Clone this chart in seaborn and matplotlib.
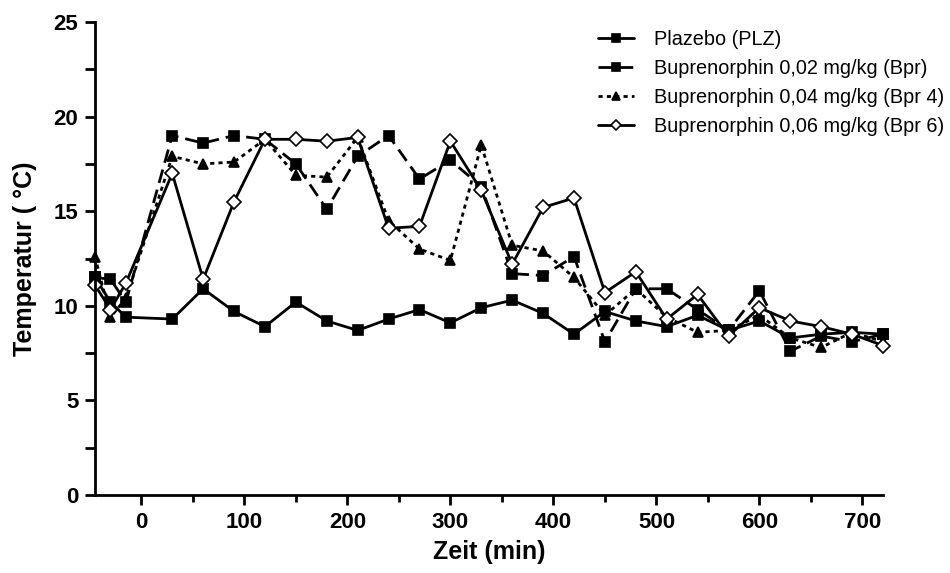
import matplotlib
matplotlib.use("Agg")
import matplotlib.pyplot as plt
import seaborn as sns
import pandas as pd
from matplotlib.ticker import MultipleLocator

zeit = [-45, -30, -15, 30, 60, 90, 120, 150, 180, 210, 240, 270, 300, 330,
        360, 390, 420, 450, 480, 510, 540, 570, 600, 630, 660, 690, 720]

plazebo = [11.5, 10.2, 9.4, 9.3, 10.9, 9.7, 8.9, 10.2, 9.2, 8.7, 9.3, 9.8, 9.1, 9.9,
           10.3, 9.6, 8.5, 9.7, 9.2, 8.9, 9.5, 8.7, 9.2, 8.3, 8.5, 8.6, 8.5]
bpr = [11.5, 11.4, 10.2, 19.0, 18.6, 19.0, 18.8, 17.5, 15.1, 17.9, 19.0, 16.7, 17.7, 16.3,
       11.7, 11.6, 12.6, 8.1, 10.9, 10.9, 9.8, 8.7, 10.8, 7.6, 8.4, 8.1, 8.5]
bpr4 = [12.6, 9.4, 10.4, 17.9, 17.5, 17.6, 18.8, 16.9, 16.8, 18.9, 14.5, 13.0, 12.4, 18.5,
        13.2, 12.9, 11.5, 9.5, 10.9, 9.4, 8.6, 8.7, 9.5, 8.3, 7.8, 8.6, 8.1]
bpr6 = [11.1, 9.8, 11.2, 17.0, 11.4, 15.5, 18.8, 18.8, 18.7, 18.9, 14.1, 14.2, 18.7, 16.1,
        12.2, 15.2, 15.7, 10.7, 11.8, 9.3, 10.6, 8.4, 9.9, 9.2, 8.9, 8.5, 7.9]

labels = ["Plazebo (PLZ)", "Buprenorphin 0,02 mg/kg (Bpr)",
          "Buprenorphin 0,04 mg/kg (Bpr 4)", "Buprenorphin 0,06 mg/kg (Bpr 6)"]

sns.set_theme(style="ticks")
plt.rcParams['font.family'] = ['Liberation Sans', 'DejaVu Sans']
plt.rcParams['text.color'] = 'black'
plt.rcParams['axes.labelcolor'] = 'black'
plt.rcParams['xtick.color'] = 'black'
plt.rcParams['ytick.color'] = 'black'

fig = plt.figure(figsize=(9.5, 5.73), dpi=100)
ax = fig.add_axes([0.1, 0.1361, 0.8295, 0.8255])

series = [plazebo, bpr, bpr4, bpr6]
styles = [
    dict(linestyle='-', marker='s', mfc='black', ms=7.5),
    dict(linestyle=(0, (5, 2.5)), marker='s', mfc='black', ms=7.5),
    dict(linestyle=(0, (1.5, 1.5)), marker='^', mfc='black', ms=7.5),
    dict(linestyle='-', marker='D', mfc='white', ms=7),
]
handles = []
for vals, lab, st in zip(series, labels, styles):
    df = pd.DataFrame({"Zeit": zeit, "Temp": vals})
    sns.lineplot(data=df, x="Zeit", y="Temp", ax=ax, color='black', lw=2.0,
                 linestyle=st['linestyle'], marker=st['marker'],
                 markerfacecolor=st['mfc'], markeredgecolor='black',
                 markeredgewidth=1.2, markersize=st['ms'], label=lab, legend=False,
                 clip_on=False)
    handles.append(ax.lines[-1])

ax.set_xlim(-45, 720)
ax.set_ylim(0, 25)
ax.xaxis.set_major_locator(MultipleLocator(100))
ax.xaxis.set_minor_locator(MultipleLocator(50))
ax.yaxis.set_major_locator(MultipleLocator(5))
ax.yaxis.set_minor_locator(MultipleLocator(2.5))
ax.set_xticks([0, 100, 200, 300, 400, 500, 600, 700])
ax.tick_params(axis='both', which='major', length=7, width=2, labelsize=16,
               direction='out', pad=5, colors='black')
ax.tick_params(axis='both', which='minor', length=5, width=2, direction='out',
               colors='black')
ax.tick_params(axis='y', which='minor', length=7)
for lbl in ax.get_xticklabels() + ax.get_yticklabels():
    lbl.set_fontweight('bold')
for s in ['left', 'bottom']:
    ax.spines[s].set_linewidth(2)
    ax.spines[s].set_color('black')
sns.despine(ax=ax)

ax.set_xlabel("Zeit (min)", fontsize=18, fontweight='bold', labelpad=5, color='black')
ax.set_ylabel("Temperatur ( °C)", fontsize=18, fontweight='bold', labelpad=12,
              color='black')

leg = ax.legend(handles=handles, labels=labels, loc='upper right',
                bbox_to_anchor=(1.1, 1.02), frameon=False, fontsize=14.3,
                handlelength=1.8, labelspacing=0.5, handletextpad=1.0,
                markerscale=0.7, numpoints=1)
for t in leg.get_texts():
    t.set_color('black')

fig.savefig("out.png", dpi=100)
